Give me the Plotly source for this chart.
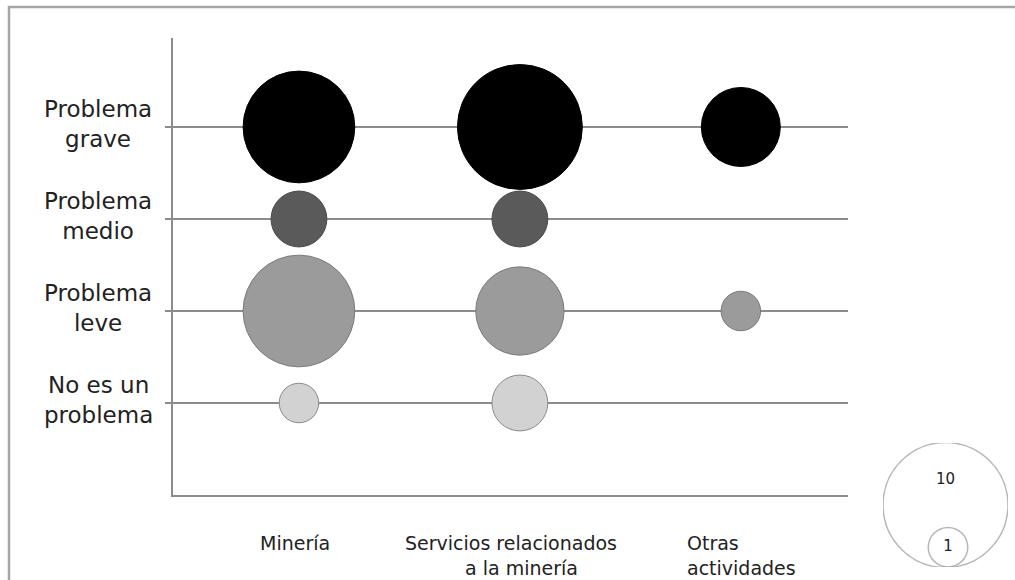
import plotly.graph_objects as go

W, H = 1015, 580

# --- data -------------------------------------------------------------
categories = ["Minería", "Servicios relacionados<br>a la minería", "Otras<br>actividades"]
levels = ["No es un<br>problema", "Problema<br>leve", "Problema<br>medio", "Problema<br>grave"]

no_es_problema = [1, 2, None]
problema_leve = [8, 5, 1]
problema_medio = [2, 2, None]
problema_grave = [8, 10, 4]

legend_values = [10, 1]
legend_labels = ["10", "1"]

# --- styling ----------------------------------------------------------
FONT = "DejaVu Sans"
TXT = "#222222"
GRID = "#8c8c8c"
series = [
    (no_es_problema, 1, "#d2d2d2", "#8a8a8a"),
    (problema_leve, 2, "#9b9b9b", "#7a7a7a"),
    (problema_medio, 3, "#5a5a5a", "#4a4a4a"),
    (problema_grave, 4, "#000000", "#000000"),
]
D1 = 39.5                      # pixel diameter of a bubble of value 1
SIZEREF = 2.0 / D1 ** 2        # area sizing

def px_x(p):
    return p / W

def px_y(p):
    return 1 - p / H

x_pos = [1, 2, 3]

fig = go.Figure()

for vals, yv, fill, edge in series:
    xs = [x for x, v in zip(x_pos, vals) if v is not None]
    ss = [v for v in vals if v is not None]
    fig.add_trace(go.Scatter(
        x=xs, y=[yv] * len(xs), mode="markers",
        marker=dict(size=ss, sizemode="area", sizeref=SIZEREF,
                    color=fill, opacity=1,
                    line=dict(color=edge, width=1)),
        hoverinfo="skip", showlegend=False,
    ))

# size key (bottom right)
fig.add_trace(go.Scatter(
    x=[0.5, 0.52], y=[0.5, 0.16], mode="markers",
    marker=dict(size=legend_values, sizemode="area", sizeref=SIZEREF,
                color="white", line=dict(color="#9a9a9a", width=1.5)),
    xaxis="x2", yaxis="y2", hoverinfo="skip", showlegend=False,
))
fig.add_trace(go.Scatter(
    x=[0.5, 0.52], y=[0.70, 0.16], mode="text", text=legend_labels,
    textfont=dict(family=FONT, size=15, color=TXT),
    xaxis="x2", yaxis="y2", hoverinfo="skip", showlegend=False,
))

annotations = []
# y category labels, centred blocks to the left of the axis
for i, lab in enumerate(levels):
    annotations.append(dict(
        text=lab, x=px_x(98), xref="paper", xanchor="center",
        y=i + 1, yref="y", yanchor="middle", yshift=3,
        showarrow=False, align="center",
        font=dict(family=FONT, size=23, color=TXT)))

# x category labels: one annotation per wrapped line
line_y = [543, 567.5]
line_anchor = [["center", "center"], ["center", "center"], ["left", "left"]]
line_shift = [[-4, 0], [-9, 2], [-55, -55]]
for i, lab in enumerate(categories):
    for j, part in enumerate(lab.split("<br>")):
        annotations.append(dict(
            text=part, x=x_pos[i], xref="x",
            xanchor=line_anchor[i][j], xshift=line_shift[i][j],
            y=px_y(line_y[j]), yref="paper", yanchor="middle",
            showarrow=False, borderpad=0,
            font=dict(family=FONT, size=19, color=TXT)))

fig.update_layout(
    width=W, height=H,
    margin=dict(l=0, r=0, t=0, b=0),
    paper_bgcolor="white", plot_bgcolor="white",
    xaxis=dict(domain=[px_x(173), px_x(848)], range=[0.43, 3.485],
               showgrid=False, zeroline=False, showticklabels=False,
               showline=True, linecolor=GRID, linewidth=1.5, ticks=""),
    yaxis=dict(domain=[px_y(495), px_y(38)], range=[0, 4.967],
               tickvals=[1, 2, 3, 4], showticklabels=False,
               showgrid=True, gridcolor=GRID, gridwidth=1.5, zeroline=False,
               showline=True, linecolor=GRID, linewidth=1.5,
               ticks="outside", ticklen=6, tickcolor=GRID, tickwidth=1.5),
    xaxis2=dict(domain=[px_x(883), px_x(1008)], range=[0, 1], visible=False),
    yaxis2=dict(domain=[px_y(567), px_y(443)], range=[0, 1], visible=False,
                anchor="x2"),
    annotations=annotations,
    shapes=[dict(type="rect", xref="paper", yref="paper",
                 x0=px_x(9), x1=px_x(1030), y0=px_y(600), y1=px_y(7),
                 line=dict(color="#a6a6a6", width=2.5), layer="below")],
)

fig.write_html("out.html")
